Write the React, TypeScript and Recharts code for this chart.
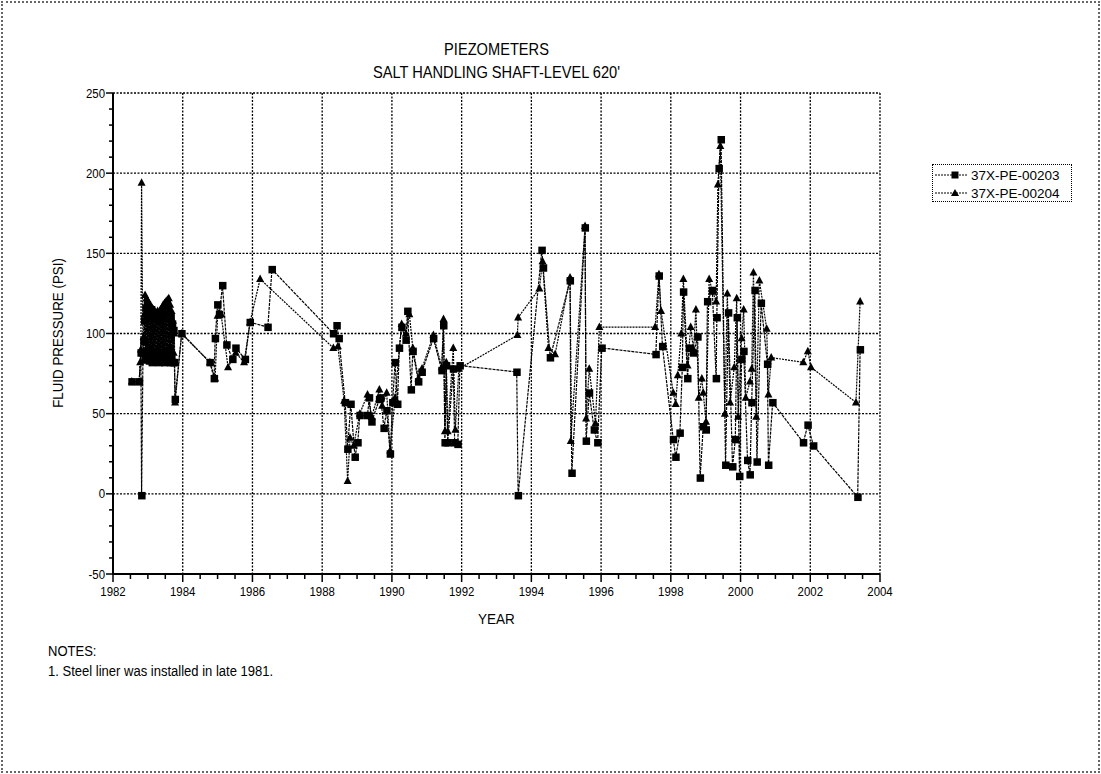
import { ComposedChart, Line, XAxis, YAxis, CartesianGrid } from "recharts";

// ── Axis ticks ────────────────────────────────────────────────────────────────
const yearTicks = Array.from({ length: 45 }, (_, i) => 1982 + i * 0.5);
const majorYears = [1982, 1984, 1986, 1988, 1990, 1992, 1994, 1996, 1998, 2000, 2002, 2004];
const psiTicks = Array.from({ length: 31 }, (_, i) => -50 + i * 10);
const majorPsi = [-50, 0, 50, 100, 150, 200, 250];

// ── 37X-PE-00203 (squares) [year, psi] ────────────────────────────────────────
const pe203Start: [number, number][] = [
  [1982.54, 70], [1982.75, 70], [1982.8, 88], [1982.82, -1], [1982.86, 88], [1982.88, 95],
];
const pe203Dense: [number, number][] = [
  [1982.9, 108], [1982.92, 84], [1982.94, 116], [1982.96, 86], [1982.98, 118], [1983.0, 88],
  [1983.02, 114], [1983.04, 83], [1983.06, 112], [1983.08, 85], [1983.1, 115], [1983.12, 82],
  [1983.14, 110], [1983.16, 87], [1983.18, 113], [1983.2, 84], [1983.22, 111], [1983.24, 83],
  [1983.26, 109], [1983.28, 86], [1983.3, 112], [1983.32, 82], [1983.34, 108], [1983.36, 85],
  [1983.38, 113], [1983.4, 83], [1983.42, 110], [1983.44, 84], [1983.46, 114], [1983.48, 82],
  [1983.5, 116], [1983.52, 86], [1983.54, 118], [1983.56, 83], [1983.58, 115], [1983.6, 85],
  [1983.62, 112], [1983.64, 82], [1983.66, 110], [1983.68, 84], [1983.7, 106], [1983.72, 82],
  [1983.74, 102], [1983.76, 82],
];
const pe203Early: [number, number][] = [
  [1983.78, 59], [1983.97, 100],
  [1984.78, 82], [1984.9, 72], [1984.93, 97], [1985.0, 118], [1985.05, 112], [1985.14, 130],
  [1985.26, 93], [1985.43, 84], [1985.52, 91], [1985.79, 84], [1985.93, 107], [1986.44, 104],
  [1986.56, 140],
];
const pe203Mid: [number, number][] = [
  [1988.32, 100], [1988.42, 105], [1988.48, 97], [1988.66, 57], [1988.73, 28], [1988.82, 56],
  [1988.94, 23], [1989.02, 32], [1989.08, 49], [1989.3, 49], [1989.35, 60], [1989.42, 45],
  [1989.64, 59], [1989.68, 60], [1989.77, 41], [1989.85, 52], [1989.95, 25], [1990.02, 57],
  [1990.09, 82], [1990.16, 56], [1990.21, 91], [1990.28, 104], [1990.4, 96], [1990.45, 114],
  [1990.55, 65], [1990.6, 89], [1990.76, 70], [1990.86, 76], [1991.19, 97], [1991.43, 77],
  [1991.48, 105], [1991.52, 32], [1991.56, 80], [1991.6, 32], [1991.76, 78], [1991.8, 32],
  [1991.89, 31], [1991.95, 80], [1993.58, 76], [1993.62, -1], [1994.3, 152], [1994.34, 141],
  [1994.54, 85], [1995.11, 133], [1995.16, 13], [1995.54, 166], [1995.57, 33], [1995.66, 63],
  [1995.8, 40], [1995.9, 32], [1996.02, 91],
];
const pe203Late: [number, number][] = [
  [1997.57, 87], [1997.66, 136], [1997.76, 92], [1998.07, 34], [1998.14, 23], [1998.26, 38],
  [1998.33, 79], [1998.36, 126], [1998.48, 72], [1998.53, 91], [1998.65, 88], [1998.77, 98],
  [1998.84, 10], [1998.93, 42], [1999.01, 40], [1999.05, 120], [1999.19, 127], [1999.3, 72],
  [1999.32, 110], [1999.38, 203], [1999.44, 221], [1999.57, 18], [1999.65, 113], [1999.77, 17],
  [1999.85, 34], [1999.9, 110], [1999.97, 11], [2000.03, 84], [2000.09, 89], [2000.2, 21],
  [2000.27, 12], [2000.32, 57], [2000.41, 127], [2000.47, 20], [2000.59, 119], [2000.77, 81],
  [2000.8, 18], [2000.92, 57], [2001.8, 32], [2001.93, 43], [2002.09, 30], [2003.36, -2],
  [2003.43, 90],
];

// ── 37X-PE-00204 (triangles) [year, psi] ──────────────────────────────────────
const pe204Start: [number, number][] = [
  [1982.54, 70], [1982.75, 70], [1982.78, 82], [1982.8, 90], [1982.82, 194], [1982.86, 83],
  [1982.88, 98],
];
const pe204Dense: [number, number][] = [
  [1982.9, 112], [1982.92, 124], [1982.94, 90], [1982.96, 122], [1982.98, 86], [1983.0, 120],
  [1983.02, 88], [1983.04, 119], [1983.06, 84], [1983.08, 117], [1983.1, 90], [1983.12, 116],
  [1983.14, 85], [1983.16, 115], [1983.18, 88], [1983.2, 114], [1983.22, 84], [1983.24, 113],
  [1983.26, 90], [1983.28, 114], [1983.3, 86], [1983.32, 113], [1983.34, 84], [1983.36, 115],
  [1983.38, 88], [1983.4, 116], [1983.42, 85], [1983.44, 118], [1983.46, 90], [1983.48, 119],
  [1983.5, 86], [1983.52, 120], [1983.54, 84], [1983.56, 121], [1983.58, 88], [1983.6, 122],
  [1983.62, 85], [1983.64, 118], [1983.66, 90], [1983.68, 114], [1983.7, 84], [1983.72, 108],
  [1983.74, 88], [1983.76, 100],
];
const pe204Early: [number, number][] = [
  [1983.78, 57], [1983.97, 100],
  [1984.78, 82], [1984.93, 72], [1985.0, 111], [1985.1, 112], [1985.3, 79], [1985.52, 88],
  [1985.76, 82], [1985.93, 107], [1986.22, 134],
];
const pe204Mid: [number, number][] = [
  [1988.32, 91], [1988.45, 92], [1988.63, 58], [1988.73, 8], [1988.8, 35], [1988.9, 30],
  [1989.08, 50], [1989.3, 62], [1989.42, 48], [1989.64, 65], [1989.72, 55], [1989.85, 63],
  [1989.95, 27], [1990.09, 60], [1990.28, 106], [1990.4, 100], [1990.5, 112], [1990.6, 91],
  [1990.76, 72], [1990.86, 78], [1991.19, 99], [1991.43, 79], [1991.48, 109], [1991.52, 39],
  [1991.56, 82], [1991.6, 39], [1991.76, 91], [1991.82, 40], [1991.92, 78], [1993.6, 99],
  [1993.62, 110], [1994.23, 128], [1994.32, 145], [1994.49, 91], [1994.68, 87], [1995.11, 135],
  [1995.13, 33], [1995.54, 167], [1995.57, 47], [1995.66, 78], [1995.84, 44], [1995.95, 104],
];
const pe204Late: [number, number][] = [
  [1997.55, 104], [1997.66, 137], [1997.72, 114], [1998.07, 63], [1998.14, 56], [1998.2, 74],
  [1998.3, 100], [1998.36, 134], [1998.48, 80], [1998.57, 104], [1998.65, 90], [1998.72, 115],
  [1998.8, 60], [1998.89, 72], [1998.93, 63], [1999.01, 45], [1999.1, 134], [1999.2, 126],
  [1999.3, 120], [1999.35, 193], [1999.42, 217], [1999.55, 50], [1999.62, 125], [1999.7, 57],
  [1999.82, 79], [1999.89, 122], [1999.93, 48], [2000.03, 97], [2000.09, 115], [2000.15, 60],
  [2000.27, 70], [2000.32, 78], [2000.37, 138], [2000.45, 48], [2000.54, 133], [2000.75, 103],
  [2000.8, 62], [2000.88, 85], [2001.8, 82], [2001.93, 89], [2002.02, 79], [2003.31, 57],
  [2003.43, 120],
];

const toPoints = (rows: [number, number][]) => rows.map(([x, y]) => ({ x, y }));
const data203 = toPoints([...pe203Start, ...pe203Dense, ...pe203Early, ...pe203Mid, ...pe203Late]);
const data204 = toPoints([...pe204Start, ...pe204Dense, ...pe204Early, ...pe204Mid, ...pe204Late]);

const FONT = "'Liberation Sans', Arial, Helvetica, sans-serif";

// ── Markers ───────────────────────────────────────────────────────────────────
function SquareDot(props: any) {
  const { cx, cy, index } = props;
  if (cx == null || cy == null) return <g key={`s${index}`} />;
  return <rect key={`s${index}`} x={cx - 3.5} y={cy - 3.5} width={7.5} height={7.5} fill="#000" />;
}

function TriangleDot(props: any) {
  const { cx, cy, index } = props;
  if (cx == null || cy == null) return <g key={`t${index}`} />;
  return (
    <path key={`t${index}`} d={`M${cx},${cy - 4.5} L${cx + 4},${cy + 3} L${cx - 4},${cy + 3} Z`} fill="#000" />
  );
}

// ── Ticks with minor marks ────────────────────────────────────────────────────
function YTick(props: any) {
  const { x, y, payload } = props;
  const major = majorPsi.includes(payload.value);
  return (
    <g>
      <line x1={x} y1={y} x2={x - (major ? 7 : 4)} y2={y} stroke="#000" strokeWidth={1.5} />
      {major && (
        <text
          transform={`translate(${x - 8},${y + 4.5}) scale(0.88,1)`}
          textAnchor="end"
          fontSize={13}
          fontFamily={FONT}
          fill="#000"
        >
          {payload.value}
        </text>
      )}
    </g>
  );
}

function XTick(props: any) {
  const { x, y, payload } = props;
  const major = majorYears.includes(payload.value);
  return (
    <g>
      <line x1={x} y1={y} x2={x} y2={y + (major ? 8 : 5)} stroke="#000" strokeWidth={1.5} />
      {major && (
        <text
          transform={`translate(${x},${y + 22}) scale(0.88,1)`}
          textAnchor="middle"
          fontSize={13}
          fontFamily={FONT}
          fill="#000"
        >
          {payload.value}
        </text>
      )}
    </g>
  );
}

function LegendRow({ label, triangle }: { label: string; triangle?: boolean }) {
  return (
    <div style={{ display: "flex", alignItems: "center", height: 18 }}>
      <svg width="32" height="10" viewBox="0 0 32 10">
        <line x1="0" y1="5" x2="32" y2="5" stroke="#000" strokeWidth="1" strokeDasharray="2 1" />
        {triangle ? (
          <path d="M20,1 L24,8 L16,8 Z" fill="#000" />
        ) : (
          <rect x="16.5" y="1.5" width="7" height="7" fill="#000" />
        )}
      </svg>
      <span style={{ marginLeft: 4 }}>{label}</span>
    </div>
  );
}

export default function App() {
  return (
    <div
      style={{
        position: "fixed",
        left: 0,
        top: 0,
        width: 1101,
        height: 774,
        background: "#fff",
        fontFamily: FONT,
        color: "#000",
        overflow: "hidden",
      }}
    >
      {/* page frame */}
      <div
        style={{
          position: "absolute",
          left: 1,
          top: 1,
          width: 1099,
          height: 772,
          boxSizing: "border-box",
          border: "2px dotted #666",
        }}
      />

      <div
        style={{
          position: "absolute",
          left: 0,
          width: 993,
          top: 38,
          textAlign: "center",
          fontSize: 17,
          lineHeight: "23px",
          transform: "scaleX(0.86)",
          transformOrigin: "496.5px 0",
        }}
      >
        PIEZOMETERS
        <br />
        SALT HANDLING SHAFT-LEVEL 620'
      </div>

      <ComposedChart
        width={1101}
        height={774}
        margin={{ top: 93, right: 221, bottom: 170, left: 53 }}
        style={{ position: "absolute", left: 0, top: 0 }}
      >
        <CartesianGrid
          stroke="#000"
          strokeDasharray="2 1.5"
          strokeWidth={1.3}
          horizontalValues={majorPsi}
          verticalValues={majorYears}
        />
        <XAxis
          dataKey="x"
          type="number"
          domain={[1982, 2004]}
          ticks={yearTicks}
          interval={0}
          tick={<XTick />}
          tickLine={false}
          tickSize={0}
          tickMargin={0}
          axisLine={{ stroke: "#000", strokeWidth: 2 }}
          height={30}
          allowDataOverflow
        />
        <YAxis
          type="number"
          domain={[-50, 250]}
          ticks={psiTicks}
          interval={0}
          tick={<YTick />}
          tickLine={false}
          tickSize={0}
          tickMargin={0}
          axisLine={{ stroke: "#000", strokeWidth: 2 }}
          width={60}
          allowDataOverflow
        />
        <Line
          data={data204}
          dataKey="y"
          type="linear"
          stroke="#000"
          strokeWidth={1.2}
          strokeDasharray="2 1"
          dot={TriangleDot}
          activeDot={false}
          isAnimationActive={false}
        />
        <Line
          data={data203}
          dataKey="y"
          type="linear"
          stroke="#000"
          strokeWidth={1.2}
          strokeDasharray="3 1"
          dot={SquareDot}
          activeDot={false}
          isAnimationActive={false}
        />
      </ComposedChart>

      <div
        style={{
          position: "absolute",
          left: 58,
          top: 333,
          transform: "translate(-50%, -50%) rotate(-90deg) scaleX(0.92)",
          fontSize: 14.5,
          whiteSpace: "nowrap",
        }}
      >
        FLUID PRESSURE (PSI)
      </div>

      <div
        style={{
          position: "absolute",
          left: 0,
          width: 993,
          top: 610,
          textAlign: "center",
          fontSize: 15,
          transform: "scaleX(0.9)",
          transformOrigin: "496.5px 0",
        }}
      >
        YEAR
      </div>

      <div style={{ position: "absolute", left: 48, top: 641, fontSize: 14, lineHeight: "20px", transform: "scaleX(0.93)", transformOrigin: "0 0" }}>
        NOTES:
        <br />
        1. Steel liner was installed in late 1981.
      </div>

      <div
        style={{
          position: "absolute",
          left: 932,
          top: 164,
          width: 140,
          height: 38,
          border: "1.5px dotted #000",
          padding: "1px 0 0 2px",
          boxSizing: "border-box",
          fontSize: 13.5,
        }}
      >
        <LegendRow label="37X-PE-00203" />
        <LegendRow label="37X-PE-00204" triangle />
      </div>
    </div>
  );
}
